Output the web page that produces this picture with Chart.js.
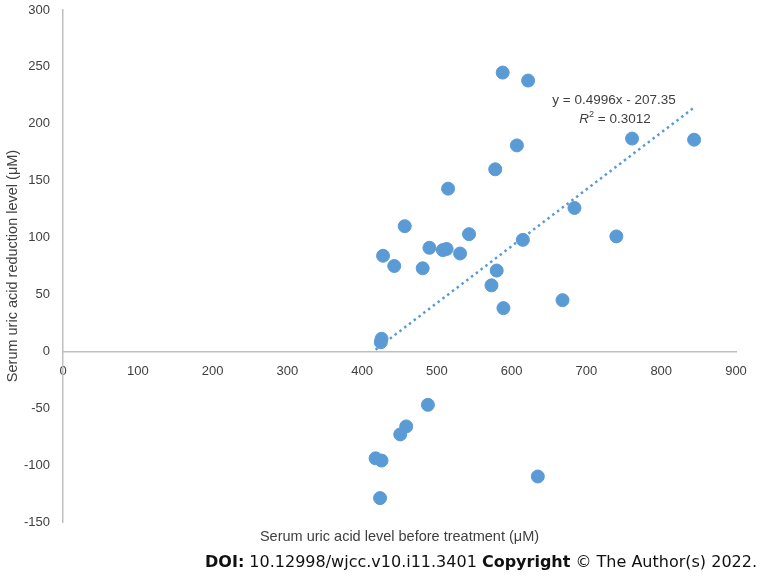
<!DOCTYPE html>
<html>
<head>
<meta charset="utf-8">
<script src="https://cdn.jsdelivr.net/npm/chart.js@4.4.0/dist/chart.umd.min.js"></script>
<style>
  body { margin: 0; background: #fff; }
  #wrap { position: relative; width: 762px; height: 578px; }
  #xTitle { position: absolute; left: 63px; width: 673px; top: 528px; text-align: center;
            font: 14.5px "Liberation Sans", Arial, sans-serif; color: #404040; }
  #doi { position: absolute; right: 5px; top: 552px; white-space: nowrap;
         font: 16px "DejaVu Sans", Verdana, sans-serif; color: #111; }
</style>
</head>
<body>
<div id="wrap">
  <canvas id="myChart" width="762" height="578"></canvas>
  <div id="xTitle">Serum uric acid level before treatment (μM)</div>
  <div id="doi"><b>DOI:</b> 10.12998/wjcc.v10.i11.3401 <b>Copyright</b> © The Author(s) 2022.</div>
</div>
<script>
const ctx = document.getElementById('myChart');

// serum uric acid before treatment (µM)
const antes = [588, 622, 761, 844, 607, 578, 515, 457, 543, 684, 615, 740,
  428, 443, 490, 508, 513, 481, 531, 580, 573, 589, 668, 426, 425,
  488, 459, 451, 418, 426, 424, 635];
// reduction level (µM)
const reducao = [245, 238, 187, 186, 181, 160, 143, 110, 103, 126, 98, 101,
  84, 75, 91, 89, 90, 73, 86, 71, 58, 38, 45, 11, 8,
  -47, -66, -73, -94, -96, -129, -110];

const inclinacao = 0.4996;
const intercepto = -207.35;
const r2 = 0.3012;
const xTicks = [0, 100, 200, 300, 400, 500, 600, 700, 800, 900];
const yTicks = [-150, -100, -50, 0, 50, 100, 150, 200, 250, 300];

const pontos = antes.map((x, i) => ({ x: x, y: reducao[i] }));
const xMin = Math.min(...antes);
const xMax = Math.max(...antes);
const tendencia = [xMin, xMax].map(x => ({ x: x, y: inclinacao * x + intercepto }));

const azul = '#5B9BD5';
const fonte = { family: '"Liberation Sans", Arial, sans-serif', size: 13 };

// texto da equação da linha de tendência
const equacao = {
  id: 'equacao',
  afterDatasetsDraw(chart) {
    const c = chart.ctx;
    c.save();
    c.fillStyle = '#404040';
    c.textBaseline = 'middle';
    c.font = '13.5px "Liberation Sans", Arial, sans-serif';
    c.textAlign = 'center';
    c.fillText('y = ' + inclinacao + 'x - ' + Math.abs(intercepto), 614, 100);
    // R² = 0.3012 (R em itálico)
    c.textAlign = 'left';
    const resto = ' = ' + r2;
    c.font = 'italic 13.5px "Liberation Sans", Arial, sans-serif';
    const wR = c.measureText('R').width;
    c.font = '9px "Liberation Sans", Arial, sans-serif';
    const w2 = c.measureText('2').width;
    c.font = '13.5px "Liberation Sans", Arial, sans-serif';
    const wResto = c.measureText(resto).width;
    let x = 615 - (wR + w2 + wResto) / 2;
    c.font = 'italic 13.5px "Liberation Sans", Arial, sans-serif';
    c.fillText('R', x, 119);
    x += wR;
    c.font = '9px "Liberation Sans", Arial, sans-serif';
    c.fillText('2', x, 115);
    x += w2;
    c.font = '13.5px "Liberation Sans", Arial, sans-serif';
    c.fillText(resto, x, 119);
    c.restore();
  }
};

new Chart(ctx, {
  type: 'scatter',
  data: {
    datasets: [{
      label: 'Redução',
      data: pontos,
      backgroundColor: azul,
      borderColor: azul,
      pointRadius: 6.5,
      pointHoverRadius: 6.5
    }, {
      type: 'line',
      label: 'Tendência',
      data: tendencia,
      borderColor: azul,
      borderWidth: 2.5,
      borderDash: [2.5, 3.5],
      pointRadius: 0,
      fill: false
    }]
  },
  options: {
    responsive: false,
    animation: false,
    layout: { autoPadding: false, padding: { left: 0, top: 10, right: 26, bottom: 56 } },
    plugins: { legend: { display: false }, tooltip: { enabled: false } },
    scales: {
      x: {
        type: 'linear',
        position: { y: 0 },
        min: 0,
        max: 900,
        afterBuildTicks: s => { s.ticks = xTicks.map(v => ({ value: v })); },
        grid: { display: false, drawTicks: false },
        border: { display: true, color: '#BFBFBF', width: 1.5 },
        ticks: { color: '#404040', font: fonte, padding: 12, maxRotation: 0 }
      },
      y: {
        type: 'linear',
        position: 'left',
        min: -150,
        max: 300,
        afterBuildTicks: s => { s.ticks = yTicks.map(v => ({ value: v })); },
        afterFit: s => { s.width = 63; s.paddingTop = 0; s.paddingBottom = 0; },
        grid: { display: false, drawTicks: false },
        border: { display: true, color: '#BFBFBF', width: 1.5 },
        ticks: { color: '#404040', font: fonte, padding: 13 },
        title: {
          display: true,
          text: 'Serum uric acid reduction level (μM)',
          color: '#404040',
          font: { family: '"Liberation Sans", Arial, sans-serif', size: 14.5 },
          padding: { top: 4, bottom: 0 }
        }
      }
    }
  },
  plugins: [equacao]
});
</script>
</body>
</html>
